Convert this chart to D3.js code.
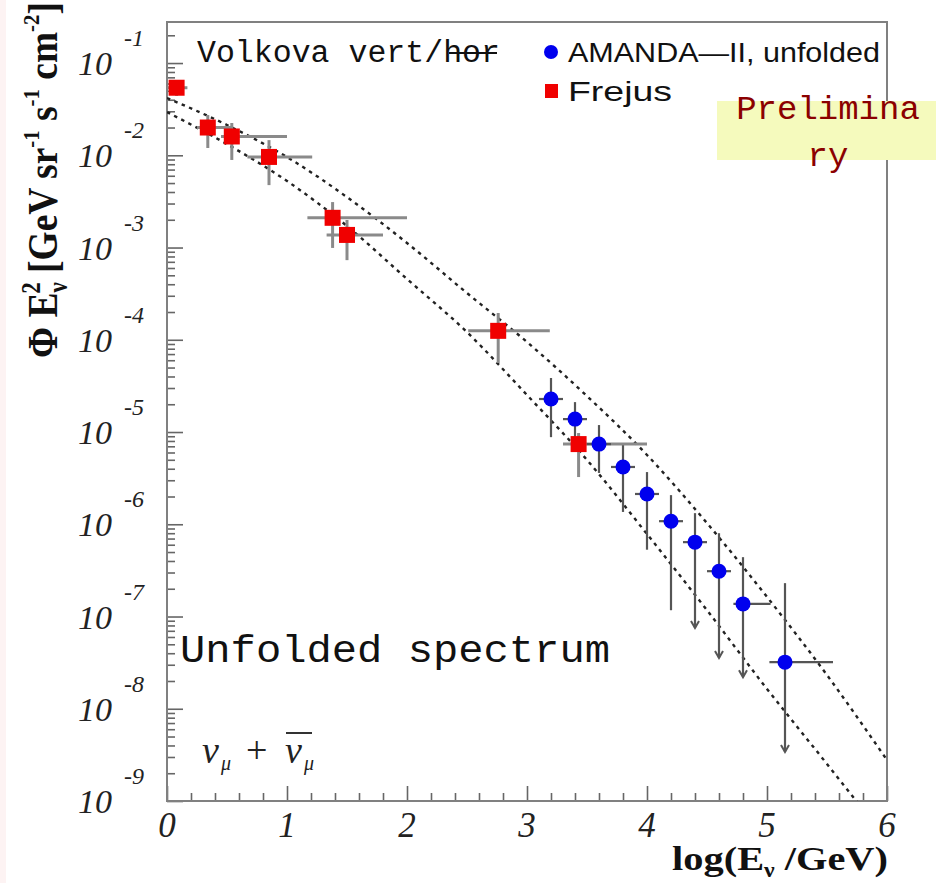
<!DOCTYPE html>
<html>
<head>
<meta charset="utf-8">
<script src="https://cdn.jsdelivr.net/npm/d3@7"></script>
<style>
  body { margin: 0; background: #fff; }
  svg { font-family: "Liberation Serif", "Times New Roman", serif; }
</style>
</head>
<body>
<svg id="chart" width="936" height="883"></svg>
<script>
// values: x = log10(E / GeV), y = flux * E^2
const xTicks = [0, 1, 2, 3, 4, 5, 6];
const yDecades = [-1, -2, -3, -4, -5, -6, -7, -8, -9];

const frejusX   = [0.08, 0.34, 0.54, 0.85, 1.38, 1.50, 2.76, 3.43];
const frejusXLo = [0.00, 0.25, 0.45, 0.67, 1.17, 1.33, 2.51, 3.30];
const frejusXHi = [0.17, 0.55, 1.00, 1.21, 2.00, 1.80, 3.19, 4.00];
const frejusY   = [5.4e-2, 2.0e-2, 1.6e-2, 9.6e-3, 2.1e-3, 1.37e-3, 1.25e-4, 7.4e-6];
const frejusYLo = [4.4e-2, 1.2e-2, 8.9e-3, 4.75e-3, 9.9e-4, 7.3e-4, 5.6e-5, 3.25e-6];
const frejusYHi = [6.55e-2, 2.73e-2, 2.24e-2, 1.46e-2, 3.11e-3, 1.99e-3, 1.95e-4, 9.75e-6];

const amandaX   = [3.2, 3.4, 3.6, 3.8, 4.0, 4.2, 4.4, 4.6, 4.8, 5.15];
const amandaXLo = [3.1, 3.3, 3.5, 3.7, 3.9, 4.1, 4.3, 4.5, 4.72, 5.02];
const amandaXHi = [3.3, 3.5, 3.7, 3.9, 4.1, 4.3, 4.5, 4.7, 5.03, 5.55];
const amandaY   = [2.28e-5, 1.38e-5, 7.4e-6, 4.18e-6, 2.13e-6, 1.08e-6, 6.4e-7, 3.1e-7, 1.37e-7, 3.2e-8];
const amandaYLo = [8.8e-6, 8.2e-6, 3.6e-6, 1.36e-6, 5.3e-7, 1.17e-7, 7.5e-8, 3.55e-8, 2.2e-8, 3.4e-9];
const amandaYHi = [3.85e-5, 2.11e-5, 1.19e-5, 7.2e-6, 3.68e-6, 2.07e-6, 1.32e-6, 8.0e-7, 4.4e-7, 2.3e-7];
const amandaLimit = [false, false, false, false, false, false, true, true, true, true];

// Volkova model, horizontal (upper) and vertical (lower) curves
const volkovaX    = [0, 0.5, 1, 1.5, 2, 2.5, 3, 3.5, 4, 4.5, 5, 5.5, 6];
const volkovaHor  = [4.18e-2, 2.13e-2, 9.57e-3, 3.52e-3, 1.12e-3, 3.21e-4, 9.46e-5, 2.45e-5, 5.64e-6, 1.03e-6, 1.63e-7, 2.32e-8, 2.78e-9];
const volkovaVert = [2.94e-2, 1.32e-2, 5.26e-3, 1.71e-3, 4.56e-4, 1.21e-4, 2.52e-5, 4.98e-6, 7.83e-7, 1.17e-7, 1.64e-8, 2.52e-9, 3.78e-10];

const margin = { top: 22, right: 49, bottom: 82, left: 167 };
const W = 936, H = 883;

const svg = d3.select('#chart');

// faint pink strip on the left edge of the scan
svg.append('rect').attr('x', 0).attr('y', 0).attr('width', 6).attr('height', H).attr('fill', '#fdf3f3');

const x = d3.scaleLinear().domain([0, 6]).range([margin.left, W - margin.right]);
const y = d3.scaleLog().domain([1e-9, Math.pow(10, -0.555)]).range([H - margin.bottom, margin.top]);

svg.append('defs').append('clipPath').attr('id', 'plotclip')
  .append('rect')
  .attr('x', margin.left).attr('y', margin.top)
  .attr('width', x(6) - x(0)).attr('height', y.range()[0] - y.range()[1]);

// ticks
const yMajor = yDecades.map(e => Math.pow(10, e));
const yMinor = [];
yDecades.forEach(e => {
  for (let k = 2; k <= 9; k++) {
    const v = k * Math.pow(10, e);
    if (v < y.domain()[1]) yMinor.push(v);
  }
});
const xMinor = d3.range(0, 6.001, 0.2).filter(v => Math.abs(v - Math.round(v)) > 1e-6);

const tickStyle = g => g.call(g => g.select('.domain').remove())
  .selectAll('line').attr('stroke', '#666').attr('stroke-width', 1.6);

svg.append('g').attr('transform', `translate(${margin.left},0)`)
  .call(d3.axisRight(y).tickValues(yMajor).tickSize(16).tickFormat(''))
  .call(tickStyle);
svg.append('g').attr('transform', `translate(${margin.left},0)`)
  .call(d3.axisRight(y).tickValues(yMinor).tickSize(8).tickFormat(''))
  .call(tickStyle);
svg.append('g').attr('transform', `translate(0,${y.range()[0]})`)
  .call(d3.axisTop(x).tickValues(xTicks).tickSize(15).tickFormat(''))
  .call(tickStyle);
svg.append('g').attr('transform', `translate(0,${y.range()[0]})`)
  .call(d3.axisTop(x).tickValues(xMinor).tickSize(8).tickFormat(''))
  .call(tickStyle);

// frame
svg.append('rect')
  .attr('x', margin.left).attr('y', margin.top)
  .attr('width', x(6) - x(0)).attr('height', y.range()[0] - y.range()[1])
  .attr('fill', 'none').attr('stroke', '#808080').attr('stroke-width', 2);

// tick labels
const yLab = svg.append('g').attr('font-style', 'italic').attr('fill', '#222');
yDecades.forEach(e => {
  yLab.append('text').attr('x', 112).attr('y', y(Math.pow(10, e)) + 12)
    .attr('text-anchor', 'end').attr('font-size', 34).text('10');
  yLab.append('text').attr('x', 124).attr('y', y(Math.pow(10, e)) - 17)
    .attr('font-size', 24).text(String(e));
});
svg.append('g').attr('font-style', 'italic').attr('fill', '#222')
  .selectAll('text').data(xTicks).join('text')
  .attr('x', d => x(d)).attr('y', 837)
  .attr('text-anchor', 'middle').attr('font-size', 35)
  .text(d => d);

// axis titles
const yTitle = svg.append('text')
  .attr('font-weight', 'bold').attr('font-size', 36).attr('fill', '#111')
  .attr('text-anchor', 'middle');
yTitle.append('tspan').text('Φ E');
yTitle.append('tspan').attr('font-size', 22).attr('dy', 8).text('ν');
yTitle.append('tspan').attr('font-size', 22).attr('dy', -22).attr('dx', -11).text('2');
yTitle.append('tspan').attr('dy', 14).text(' [GeV sr');
yTitle.append('tspan').attr('font-size', 20).attr('dy', -15).text('-1');
yTitle.append('tspan').attr('dy', 15).text(' s');
yTitle.append('tspan').attr('font-size', 20).attr('dy', -15).text('-1');
yTitle.append('tspan').attr('dy', 15).text(' cm');
yTitle.append('tspan').attr('font-size', 20).attr('dy', -15).text('-2');
yTitle.append('tspan').attr('dy', 15).text(']');
{
  const w = yTitle.node().getBBox().width;
  yTitle.attr('transform', `translate(57,180) rotate(-90) scale(${356 / w},1.2)`);
}

const xTitle = svg.append('text')
  .attr('font-weight', 'bold').attr('font-size', 34).attr('fill', '#111')
  .attr('text-anchor', 'end');
xTitle.append('tspan').text('log(E');
xTitle.append('tspan').attr('font-size', 20).attr('dy', 7).text('ν');
xTitle.append('tspan').attr('dy', -7).text(' /GeV)');
{
  const w = xTitle.node().getBBox().width;
  xTitle.attr('transform', `translate(888,870) scale(${216 / w},1)`);
}

// model curves
const line = d3.line().x(d => x(d[0])).y(d => y(d[1])).curve(d3.curveMonotoneX);
const curves = svg.append('g').attr('clip-path', 'url(#plotclip)');
[volkovaHor, volkovaVert].forEach(vals => {
  curves.append('path')
    .datum(volkovaX.map((v, i) => [v, vals[i]]))
    .attr('d', line)
    .attr('fill', 'none').attr('stroke', '#222')
    .attr('stroke-width', 2.4).attr('stroke-dasharray', '3.5,4.5');
});

// error bars
const frejus = frejusX.map((v, i) => ({ x: v, xl: frejusXLo[i], xh: frejusXHi[i], y: frejusY[i], yl: frejusYLo[i], yh: frejusYHi[i] }));
const amanda = amandaX.map((v, i) => ({ x: v, xl: amandaXLo[i], xh: amandaXHi[i], y: amandaY[i], yl: amandaYLo[i], yh: amandaYHi[i], lim: amandaLimit[i] }));

function errBars(data, color, width) {
  const g = svg.append('g').attr('stroke', color).attr('stroke-width', width);
  g.selectAll('.h').data(data).join('line')
    .attr('x1', d => x(d.xl)).attr('x2', d => x(d.xh))
    .attr('y1', d => y(d.y)).attr('y2', d => y(d.y));
  g.selectAll('.v').data(data).join('line')
    .attr('x1', d => x(d.x)).attr('x2', d => x(d.x))
    .attr('y1', d => y(d.yl)).attr('y2', d => y(d.yh));
  return g;
}
errBars(frejus, '#8a8a8a', 3);
errBars(amanda, '#555', 2.2);

svg.append('g').selectAll('path').data(amanda.filter(d => d.lim)).join('path')
  .attr('d', d => {
    const cx = x(d.x), cy = y(d.yl);
    return `M${cx - 4},${cy - 7}L${cx},${cy}L${cx + 4},${cy - 7}`;
  })
  .attr('fill', 'none').attr('stroke', '#555').attr('stroke-width', 2);

// markers
svg.append('g').selectAll('rect').data(frejus).join('rect')
  .attr('x', d => x(d.x) - 8).attr('y', d => y(d.y) - 8)
  .attr('width', 16).attr('height', 16)
  .attr('fill', '#f00000');
svg.append('g').selectAll('circle').data(amanda).join('circle')
  .attr('cx', d => x(d.x)).attr('cy', d => y(d.y)).attr('r', 7.5)
  .attr('fill', '#0000ee');

// legend and notes
const mono = '"Liberation Mono", "Courier New", monospace';
const sans = '"Liberation Sans", Arial, sans-serif';
svg.append('text').attr('x', 197).attr('y', 62)
  .style('font-family', mono).attr('font-size', 31).attr('fill', '#111')
  .attr('textLength', 303).attr('lengthAdjust', 'spacingAndGlyphs')
  .text('Volkova vert/hor');
svg.append('line').attr('x1', 449).attr('x2', 497).attr('y1', 53).attr('y2', 53)
  .attr('stroke', '#111').attr('stroke-width', 2);

svg.append('circle').attr('cx', 551).attr('cy', 52).attr('r', 7).attr('fill', '#0000ee');
svg.append('text').attr('x', 568).attr('y', 62)
  .style('font-family', sans).attr('font-size', 28).attr('fill', '#111')
  .attr('textLength', 312).attr('lengthAdjust', 'spacingAndGlyphs')
  .text('AMANDA\u2014II, unfolded');
svg.append('rect').attr('x', 545).attr('y', 84).attr('width', 13).attr('height', 14).attr('fill', '#f00000');
svg.append('text').attr('x', 568).attr('y', 101)
  .style('font-family', sans).attr('font-size', 28).attr('fill', '#111')
  .attr('textLength', 104).attr('lengthAdjust', 'spacingAndGlyphs')
  .text('Frejus');

// preliminary stamp
svg.append('rect').attr('x', 717).attr('y', 101).attr('width', 219).attr('height', 59).attr('fill', '#f5fabd');
svg.append('text').attr('x', 828).attr('y', 119)
  .style('font-family', mono).attr('font-size', 34).attr('fill', '#8b0000')
  .attr('text-anchor', 'middle').text('Prelimina');
svg.append('text').attr('x', 828).attr('y', 166)
  .style('font-family', mono).attr('font-size', 34).attr('fill', '#8b0000')
  .attr('text-anchor', 'middle').text('ry');

svg.append('text').attr('x', 180).attr('y', 662)
  .style('font-family', mono).attr('font-size', 39).attr('fill', '#111')
  .attr('textLength', 430).attr('lengthAdjust', 'spacingAndGlyphs')
  .text('Unfolded spectrum');

// nu_mu + anti-nu_mu
const nu = svg.append('g').attr('font-style', 'italic').attr('fill', '#222');
nu.append('text').attr('x', 202).attr('y', 763).attr('font-size', 38).text('ν');
nu.append('text').attr('x', 221).attr('y', 770).attr('font-size', 20).text('μ');
nu.append('text').attr('x', 246).attr('y', 763).attr('font-size', 38).attr('font-style', 'normal').text('+');
nu.append('text').attr('x', 285).attr('y', 763).attr('font-size', 38).text('ν');
nu.append('text').attr('x', 304).attr('y', 770).attr('font-size', 20).text('μ');
nu.append('line').attr('x1', 286).attr('x2', 312).attr('y1', 733).attr('y2', 733)
  .attr('stroke', '#333').attr('stroke-width', 2);
</script>
</body>
</html>
